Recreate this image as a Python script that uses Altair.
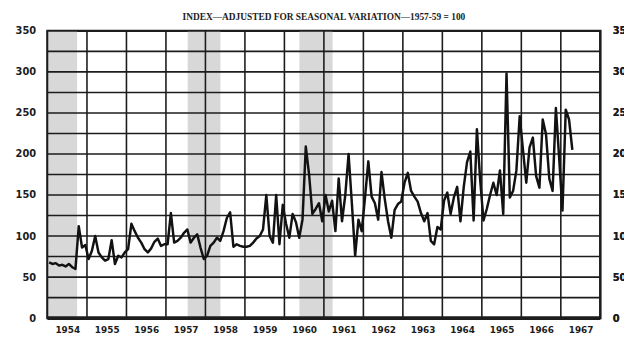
import altair as alt
import pandas as pd

# ---- data ----
years = list(range(1954, 1968))
v1954 = [68, 66, 67, 64, 65, 63, 66, 62, 60, 112, 86, 89]
v1955 = [72, 82, 100, 80, 74, 70, 72, 95, 66, 76, 74, 80]
v1956 = [84, 115, 106, 98, 92, 84, 80, 85, 93, 97, 88, 90]
v1957 = [90, 128, 92, 94, 98, 104, 108, 92, 98, 102, 86, 72]
v1958 = [76, 88, 92, 98, 94, 106, 122, 129, 87, 90, 88, 87]
v1959 = [87, 88, 92, 97, 100, 108, 150, 100, 92, 150, 90, 138]
v1960 = [115, 98, 127, 117, 98, 120, 209, 175, 127, 133, 140, 118]
v1961 = [150, 130, 143, 106, 170, 118, 150, 200, 140, 76, 120, 106]
v1962 = [147, 191, 148, 140, 120, 178, 145, 118, 98, 132, 139, 142]
v1963 = [165, 177, 155, 148, 142, 128, 118, 128, 94, 90, 111, 108]
v1964 = [143, 153, 127, 147, 160, 118, 160, 190, 203, 119, 230, 168]
v1965 = [119, 133, 150, 165, 150, 180, 127, 298, 147, 155, 180, 246]
v1966 = [205, 165, 208, 220, 173, 159, 242, 224, 170, 155, 256, 195]
v1967 = [131, 254, 242, 205]
series = [v1954, v1955, v1956, v1957, v1958, v1959, v1960,
          v1961, v1962, v1963, v1964, v1965, v1966, v1967]

rec_start = [1954.0, 1957.55, 1960.38]
rec_end = [1954.75, 1958.38, 1961.22]

grid_years = list(range(1954, 1969))
grid_levels = list(range(0, 351, 25))
y_labels = [0, 50, 100, 150, 200, 250, 300, 350]
subtitle = "INDEX\u2014ADJUSTED FOR SEASONAL VARIATION\u20141957-59 = 100"

rows = []
for yr, vals in zip(years, series):
    for m, v in enumerate(vals):
        rows.append({"t": yr + (m + 0.5) / 12.0, "value": v})
df = pd.DataFrame(rows)
rec_df = pd.DataFrame({"start": rec_start, "end": rec_end})
gx_df = pd.DataFrame({"gx": grid_years})
gy_df = pd.DataFrame({"gy": grid_levels})
base_df = pd.DataFrame({"b": [0]})

INK = "#1c1c1c"
xscale = alt.Scale(domain=[1954, 1968], nice=False, zero=False)
yscale = alt.Scale(domain=[0, 350], nice=False)

xaxis = alt.Axis(values=years, format="d", labelOffset=20, ticks=False, domain=False,
                 grid=False, title=None, labelFlush=False, labelAngle=0,
                 labelFont="DejaVu Sans", labelFontWeight="bold", labelFontSize=9,
                 labelColor=INK, labelPadding=8)
yaxis_left = alt.Axis(values=y_labels, ticks=False, domain=False, grid=False, title=None,
                      labelFont="DejaVu Sans", labelFontWeight="bold", labelFontSize=10,
                      labelColor=INK, labelPadding=12)
yaxis_right = alt.Axis(values=y_labels, orient="right", ticks=False, domain=False,
                       grid=False, title=None, labelFont="DejaVu Sans",
                       labelFontWeight="bold", labelFontSize=10, labelColor=INK,
                       labelPadding=12)

shade = alt.Chart(rec_df).mark_rect(color="#d8d8d8").encode(
    x=alt.X("start:Q", scale=xscale, axis=xaxis), x2="end:Q")

vgrid = alt.Chart(gx_df).mark_rule(color=INK, strokeWidth=1.6).encode(
    x=alt.X("gx:Q", scale=xscale, axis=xaxis))

hgrid = alt.Chart(gy_df).mark_rule(color=INK, strokeWidth=1.6).encode(
    y=alt.Y("gy:Q", scale=yscale, axis=yaxis_right))

baseline = alt.Chart(base_df).mark_rule(color=INK, strokeWidth=4).encode(
    y=alt.Y("b:Q", scale=yscale, axis=yaxis_right))

line = alt.Chart(df).mark_line(color="#121212", strokeWidth=2.5, strokeJoin="round").encode(
    x=alt.X("t:Q", scale=xscale, axis=xaxis),
    y=alt.Y("value:Q", scale=yscale, axis=yaxis_left))

chart = alt.layer(shade, vgrid, hgrid, baseline, line).resolve_axis(
    y="independent"
).properties(
    width=560, height=291,
    padding={"left": 40, "top": 21, "right": 24, "bottom": 20},
    autosize=alt.AutoSizeParams(type="none"),
    title=alt.Title(subtitle, font="Liberation Serif", fontSize=9.5, fontWeight="bold",
                    anchor="middle", offset=5, color=INK),
    background="white",
).configure_view(stroke=INK, strokeWidth=2.5)

chart.save("out.html", embed_options={"renderer": "svg", "actions": False})
